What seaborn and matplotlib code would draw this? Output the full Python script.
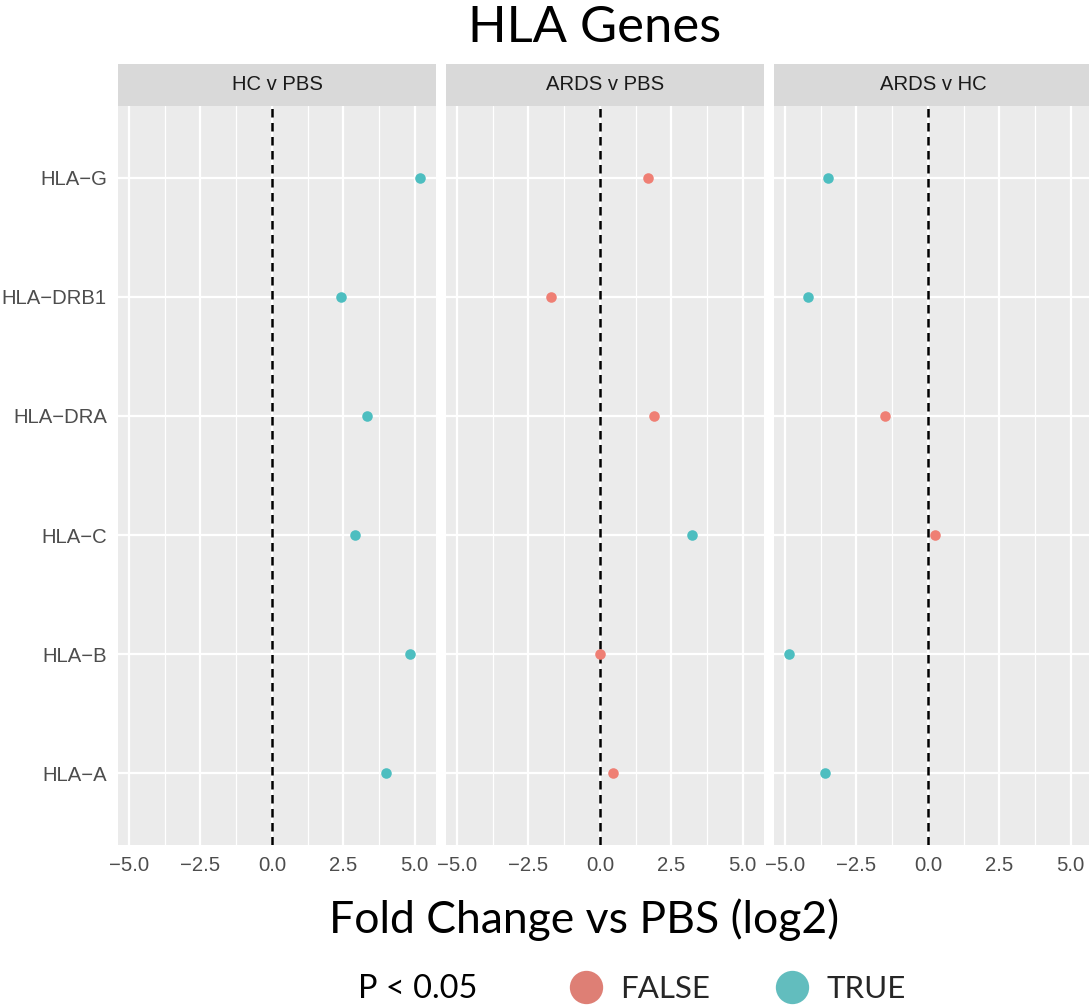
import numpy as np
import pandas as pd
import matplotlib
matplotlib.use("Agg")
import matplotlib.pyplot as plt
from matplotlib.lines import Line2D
from matplotlib.ticker import FixedLocator
import seaborn as sns

# ---------------- data ----------------
genes = ["HLA\u2212G", "HLA\u2212DRB1", "HLA\u2212DRA", "HLA\u2212C", "HLA\u2212B", "HLA\u2212A"]
comparisons = ["HC v PBS", "ARDS v PBS", "ARDS v HC"]

hc_pbs_fc = [5.19, 2.42, 3.33, 2.91, 4.84, 4.00]
hc_pbs_sig = ["TRUE", "TRUE", "TRUE", "TRUE", "TRUE", "TRUE"]

ards_pbs_fc = [1.68, -1.72, 1.89, 3.23, 0.00, 0.46]
ards_pbs_sig = ["FALSE", "FALSE", "FALSE", "TRUE", "FALSE", "FALSE"]

ards_hc_fc = [-3.51, -4.21, -1.51, 0.25, -4.88, -3.61]
ards_hc_sig = ["TRUE", "TRUE", "FALSE", "FALSE", "TRUE", "TRUE"]

x_ticks = [-5.0, -2.5, 0.0, 2.5, 5.0]
sig_levels = ["FALSE", "TRUE"]
palette = {"FALSE": "#EF7F74", "TRUE": "#4DBEC0"}
legend_colors = {"FALSE": "#DE7F75", "TRUE": "#62BDBE"}

frames = []
for comp, fc, sig in [(comparisons[0], hc_pbs_fc, hc_pbs_sig),
                      (comparisons[1], ards_pbs_fc, ards_pbs_sig),
                      (comparisons[2], ards_hc_fc, ards_hc_sig)]:
    frames.append(pd.DataFrame({"comp": comp, "gene": genes, "fc": fc, "sig": sig}))
df = pd.concat(frames, ignore_index=True)

# ---------------- figure ----------------
sns.set_style("white")
plt.rcParams["font.family"] = ["Liberation Sans", "DejaVu Sans"]

W, H = 1089, 1008
fig = plt.figure(figsize=(W / 100, H / 100), dpi=100)

panel_lefts = [118, 446, 774]
panel_w = 318
panel_top, panel_bot = 106, 845
strip_top = 64

def fx(px):
    return px / W

def fy(py):
    return 1 - py / H

for i, comp in enumerate(comparisons):
    ax = fig.add_axes([fx(panel_lefts[i]), fy(panel_bot), fx(panel_w),
                       (panel_bot - panel_top) / H])
    ax.set_facecolor("#EBEBEB")
    sub = df[df["comp"] == comp]
    sns.stripplot(data=sub, x="fc", y="gene", hue="sig", order=genes,
                  hue_order=sig_levels, palette=palette, jitter=False,
                  size=7.6, linewidth=0, orient="h", legend=False, ax=ax,
                  zorder=5)
    ax.axvline(0, color="black", lw=1.8, ls=(0, (3.4, 2.2)), zorder=4)
    ax.set_xlim(-5.39, 5.75)
    ax.set_ylim(5.6, -0.6)
    ax.xaxis.set_major_locator(FixedLocator(x_ticks))
    ax.set_xticklabels([f"{v:.1f}".replace("-", "\u2212") for v in x_ticks])
    ax.xaxis.set_minor_locator(FixedLocator([-3.75, -1.25, 1.25, 3.75]))
    ax.grid(which="major", color="white", lw=1.6, zorder=0)
    ax.grid(which="minor", axis="x", color="white", lw=0.9, zorder=0)
    ax.set_axisbelow(True)
    for s in ax.spines.values():
        s.set_visible(False)
    ax.tick_params(axis="both", which="major", length=4.5, width=1.3,
                   color="#333333", labelcolor="#4D4D4D", labelsize=14.6, pad=3.5)
    ax.tick_params(axis="x", which="minor", length=0)
    ax.set_xlabel("")
    ax.set_ylabel("")
    if i > 0:
        ax.tick_params(axis="y", left=False, labelleft=False)

    # strip
    sax = fig.add_axes([fx(panel_lefts[i]), fy(panel_top), fx(panel_w),
                        (panel_top - strip_top) / H])
    sax.set_facecolor("#D9D9D9")
    sax.set_xticks([])
    sax.set_yticks([])
    for s in sax.spines.values():
        s.set_visible(False)
    sax.text(0.5, 0.5, comp, ha="center", va="center", fontsize=14.6,
             color="#1A1A1A", transform=sax.transAxes)

# titles
lato = ["Lato", "DejaVu Sans"]
fig.text(fx(595), fy(42), "HLA Genes", ha="center", va="baseline",
         fontsize=36.5, family=lato, color="black")
fig.text(fx(584), fy(933), "Fold Change vs PBS (log2)", ha="center",
         va="baseline", fontsize=32, family=lato, color="black")

# legend
fig.text(fx(418), fy(998), "P < 0.05", ha="center", va="baseline",
         fontsize=23.4, family=lato, color="black")
handles = [Line2D([], [], marker="o", ls="", ms=24, color=legend_colors[k],
                  markeredgewidth=0) for k in sig_levels]
fig.legend(handles, sig_levels, loc="center", bbox_to_anchor=(fx(738), fy(989)),
           ncol=2, frameon=False, handlelength=1.0, handletextpad=0.6,
           columnspacing=2.1, borderpad=0, borderaxespad=0,
           prop={"family": lato, "size": 22.5})

fig.savefig("out.png", dpi=100, facecolor="white")
